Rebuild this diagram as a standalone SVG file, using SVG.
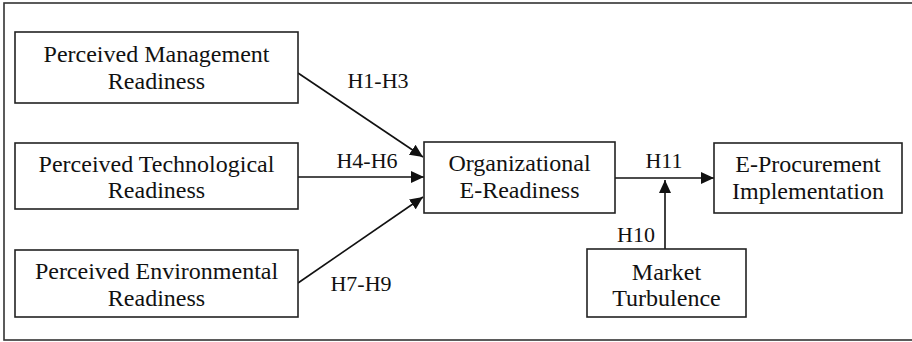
<svg xmlns="http://www.w3.org/2000/svg" width="912" height="342" viewBox="0 0 912 342">
<style>
.box{fill:#fff;stroke:#222;stroke-width:1.6}
.t{font-family:"Liberation Serif","Times New Roman",serif;font-size:24px;fill:#111;text-anchor:middle}
.l{font-family:"Liberation Serif","Times New Roman",serif;font-size:22px;fill:#111;text-anchor:middle}
.c{stroke:#111;stroke-width:1.6;fill:none;marker-end:url(#ah)}
</style>
<defs>
<marker id="ah" markerUnits="userSpaceOnUse" markerWidth="14" markerHeight="12" refX="13" refY="6" orient="auto">
<path d="M0,0 L13,6 L0,12 Z" fill="#111"/>
</marker>
</defs>
<rect x="4" y="3" width="920" height="337" fill="#fff" stroke="#333" stroke-width="1.6"/>
<g id="connectors">
<line class="c" x1="298" y1="73" x2="423" y2="157"/>
<line class="c" x1="298" y1="177" x2="424" y2="177"/>
<line class="c" x1="298" y1="283" x2="423" y2="197"/>
<line class="c" x1="615" y1="178" x2="714" y2="178"/>
<line class="c" x1="665" y1="249" x2="665" y2="180"/>
</g>
<g id="labels">
<text class="l" x="378" y="88">H1-H3</text>
<text class="l" x="367" y="168">H4-H6</text>
<text class="l" x="361" y="291">H7-H9</text>
<text class="l" x="664" y="168">H11</text>
<text class="l" x="636" y="242">H10</text>
</g>
<g id="mgmt">
<rect class="box" x="15" y="32" width="283" height="71"/>
<text class="t" x="156.5" y="62">Perceived Management</text>
<text class="t" x="156.5" y="89">Readiness</text>
</g>
<g id="tech">
<rect class="box" x="15" y="143" width="283" height="66"/>
<text class="t" x="156.5" y="172">Perceived Technological</text>
<text class="t" x="156.5" y="198">Readiness</text>
</g>
<g id="env">
<rect class="box" x="15" y="250" width="283" height="67"/>
<text class="t" x="156.5" y="279">Perceived Environmental</text>
<text class="t" x="156.5" y="306">Readiness</text>
</g>
<g id="org">
<rect class="box" x="424" y="142" width="191" height="71"/>
<text class="t" x="519.5" y="171">Organizational</text>
<text class="t" x="519.5" y="198">E-Readiness</text>
</g>
<g id="eproc">
<rect class="box" x="714" y="143" width="188" height="70"/>
<text class="t" x="808" y="172">E-Procurement</text>
<text class="t" x="808" y="199">Implementation</text>
</g>
<g id="market">
<rect class="box" x="587" y="249" width="159" height="68"/>
<text class="t" x="666.5" y="280">Market</text>
<text class="t" x="666.5" y="306">Turbulence</text>
</g>
</svg>
